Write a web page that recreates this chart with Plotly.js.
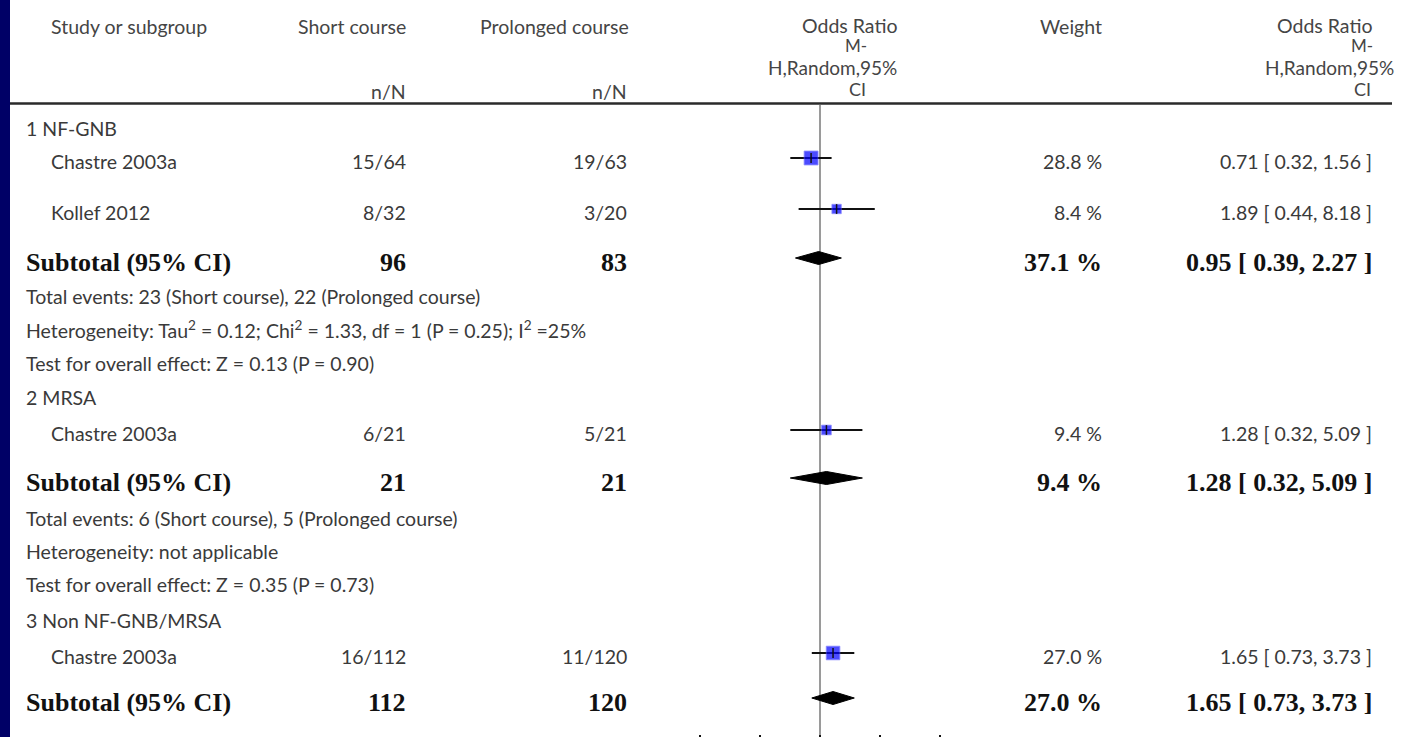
<!DOCTYPE html>
<html><head><meta charset="utf-8">
<script src="https://cdn.plot.ly/plotly-3.0.1.min.js"></script>
<style>html,body{margin:0;padding:0;background:#fff;overflow:hidden}#chart{width:1408px;height:737px}</style>
</head><body><div id="chart"></div>
<script>
// ---------------- data ----------------
const subgroupNames = ["1 NF-GNB", "2 MRSA", "3 Non NF-GNB/MRSA"];
const studyNames = ["Chastre 2003a", "Kollef 2012", "Chastre 2003a", "Chastre 2003a"];
const studySubgroup = [0, 0, 1, 2];
const shortEvents = [15, 8, 6, 16];
const shortTotals = [64, 32, 21, 112];
const prolongedEvents = [19, 3, 5, 11];
const prolongedTotals = [63, 20, 21, 120];
const studyOR = [0.71, 1.89, 1.28, 1.65];
const studyLower = [0.32, 0.44, 0.32, 0.73];
const studyUpper = [1.56, 8.18, 5.09, 3.73];
const studyWeight = [28.8, 8.4, 9.4, 27.0];
const subtotalShortN = [96, 21, 112];
const subtotalProlongedN = [83, 21, 120];
const subtotalOR = [0.95, 1.28, 1.65];
const subtotalLower = [0.39, 0.32, 0.73];
const subtotalUpper = [2.27, 5.09, 3.73];
const subtotalWeight = [37.1, 9.4, 27.0];
const totalEventsShort = [23, 6];
const totalEventsProlonged = [22, 5];
const heterogeneityText = ["Tau<sup>2</sup> = 0.12; Chi<sup>2</sup> = 1.33, df = 1 (P = 0.25); I<sup>2</sup> =25%", "not applicable"];
const overallZ = ["0.13", "0.35"];
const overallP = ["0.90", "0.73"];
const axisTicks = [0.01, 0.1, 1, 10, 100];

// ---------------- layout (pixel positions) ----------------
const W = 1408, H = 737, BOTTOM = 3;
const groupRowY = [128, 397, 620];
const studyRowY = [161, 212, 433, 656];
const subtotalRowY = [262, 482, 702];
const infoRowY = [[296, 329, 363], [518, 551, 584]];
const markerShift = -3, diamondShift = -4, diamondHalf = 6.5;
const col = {group: 25, name: 50, shortR: 407, prolR: 628, weightR: 1103, orR: 1373};
const plotX0 = 700, plotX1 = 940;
const px = v => v / W;

const bodyFont = {family: "Lato, 'Open Sans', sans-serif", size: 19.5, color: "#3a3a3a"};
const boldFont = {family: "'Liberation Serif', 'DejaVu Serif', serif", size: 26, color: "#111", weight: "bold"};
const headFont = {family: "Lato, 'Open Sans', sans-serif", size: 19.5, color: "#454545"};

const ann = [];
function txt(text, x, y, anchor, font) {
  ann.push({text: text, x: px(x), xref: "paper", y: y, yref: "y", xanchor: anchor, yanchor: "middle",
            showarrow: false, font: font, borderpad: 0});
}
const fmt2 = v => v.toFixed(2);
const ciText = (o, l, u) => fmt2(o) + " [ " + fmt2(l) + ", " + fmt2(u) + " ]";

// header
txt("Study or subgroup", col.name, 26, "left", headFont);
txt("Short course", col.shortR, 26, "right", headFont);
txt("n/N", col.shortR, 91, "right", headFont);
txt("Prolonged course", col.prolR + 2, 26, "right", headFont);
txt("n/N", col.prolR, 91, "right", headFont);
txt("Weight", col.weightR, 26, "right", headFont);
const orHead = [["Odds Ratio", 25, 19.5], ["M-", 45, 17], ["H,Random,95%", 67, 19], ["CI", 89, 18]];
const orHeadR1 = [898, 868, 898, 867];
const orHeadR2 = [1373, 1374, 1395, 1372];
orHead.forEach((h, i) => {
  const f = Object.assign({}, headFont, {size: h[2]});
  txt(h[0], orHeadR1[i], h[1], "right", f);
  txt(h[0], orHeadR2[i], h[1], "right", f);
});

// subgroup headers & info
subgroupNames.forEach((g, i) => txt(g, col.group, groupRowY[i], "left", bodyFont));
totalEventsShort.forEach((e, i) => {
  txt("Total events: " + e + " (Short course), " + totalEventsProlonged[i] + " (Prolonged course)", col.group, infoRowY[i][0], "left", bodyFont);
  txt("Heterogeneity: " + heterogeneityText[i], col.group, infoRowY[i][1], "left", bodyFont);
  txt("Test for overall effect: Z = " + overallZ[i] + " (P = " + overallP[i] + ")", col.group, infoRowY[i][2], "left", bodyFont);
});

// studies
studyNames.forEach((s, i) => {
  const y = studyRowY[i];
  txt(s, col.name, y, "left", bodyFont);
  txt(shortEvents[i] + "/" + shortTotals[i], col.shortR, y, "right", bodyFont);
  txt(prolongedEvents[i] + "/" + prolongedTotals[i], col.prolR, y, "right", bodyFont);
  txt(studyWeight[i].toFixed(1) + " %", col.weightR, y, "right", bodyFont);
  txt(ciText(studyOR[i], studyLower[i], studyUpper[i]), col.orR, y, "right", bodyFont);
});

// subtotals
subtotalOR.forEach((o, i) => {
  const y = subtotalRowY[i];
  txt("Subtotal (95% CI)", col.group, y, "left", boldFont);
  txt(String(subtotalShortN[i]), col.shortR, y, "right", boldFont);
  txt(String(subtotalProlongedN[i]), col.prolR, y, "right", boldFont);
  txt(subtotalWeight[i].toFixed(1) + " %", col.weightR, y, "right", boldFont);
  txt(ciText(o, subtotalLower[i], subtotalUpper[i]), col.orR, y, "right", boldFont);
});

// ---------------- traces ----------------
const ciX = [], ciY = [];
studyOR.forEach((o, i) => {
  ciX.push(studyLower[i], studyUpper[i], null);
  const y = studyRowY[i] + markerShift;
  ciY.push(y, y, null);
});
const ciTrace = {type: "scatter", mode: "lines", x: ciX, y: ciY, line: {color: "#111", width: 2},
  hoverinfo: "skip", showlegend: false};

const sqTrace = {type: "scatter", mode: "markers", x: studyOR, y: studyRowY.map(y => y + markerShift),
  marker: {symbol: "square", color: "#0000ff", size: studyWeight.map(w => 4 + 1.85 * Math.sqrt(w)),
           line: {width: 0.8, color: "#5a5aff"}}, showlegend: false, hoverinfo: "skip"};
const tickTrace = {type: "scatter", mode: "markers", x: studyOR, y: studyRowY.map(y => y + markerShift),
  marker: {symbol: "line-ns-open", color: "#111", size: 7, line: {width: 1.5, color: "#111"}},
  showlegend: false, hoverinfo: "skip"};

const dX = [], dY = [];
subtotalOR.forEach((o, i) => {
  const y = subtotalRowY[i] + diamondShift;
  dX.push(subtotalLower[i], o, subtotalUpper[i], o, subtotalLower[i], null);
  dY.push(y, y - diamondHalf, y, y + diamondHalf, y, null);
});
const diamondTrace = {type: "scatter", mode: "lines", x: dX, y: dY, fill: "toself", fillcolor: "#000",
  line: {color: "#000", width: 1}, showlegend: false, hoverinfo: "skip"};

// ---------------- shapes ----------------
const shapes = [
  {type: "rect", xref: "paper", yref: "paper", x0: 0, x1: px(10), y0: -0.02, y1: 1.02,
   fillcolor: "#000066", line: {width: 0}, layer: "above"},
  {type: "line", xref: "paper", yref: "y", x0: px(10), x1: px(1392), y0: 103.5, y1: 103.5,
   line: {color: "#2a2a2a", width: 2.5}},
  {type: "line", xref: "x", yref: "paper", x0: 1, x1: 1, y0: -0.01, y1: (H - BOTTOM - 105) / (H - BOTTOM),
   line: {color: "#9a9a9a", width: 2}, layer: "below"}
];

const layout = {
  width: W, height: H,
  margin: {l: 0, r: 0, t: 0, b: BOTTOM, pad: 0},
  paper_bgcolor: "#fff", plot_bgcolor: "rgba(0,0,0,0)",
  showlegend: false,
  xaxis: {type: "log", domain: [px(plotX0), px(plotX1)], range: [-2, 2], tickvals: axisTicks,
          showticklabels: false, ticks: "outside", ticklen: 3, tickwidth: 2, tickcolor: "#111",
          showgrid: false, zeroline: false, showline: false, fixedrange: true},
  yaxis: {range: [H - BOTTOM, 0], domain: [0, 1], visible: false, fixedrange: true},
  annotations: ann,
  shapes: shapes
};

Plotly.newPlot("chart", [ciTrace, diamondTrace, sqTrace, tickTrace], layout, {staticPlot: true, displayModeBar: false});
</script>
</body></html>
